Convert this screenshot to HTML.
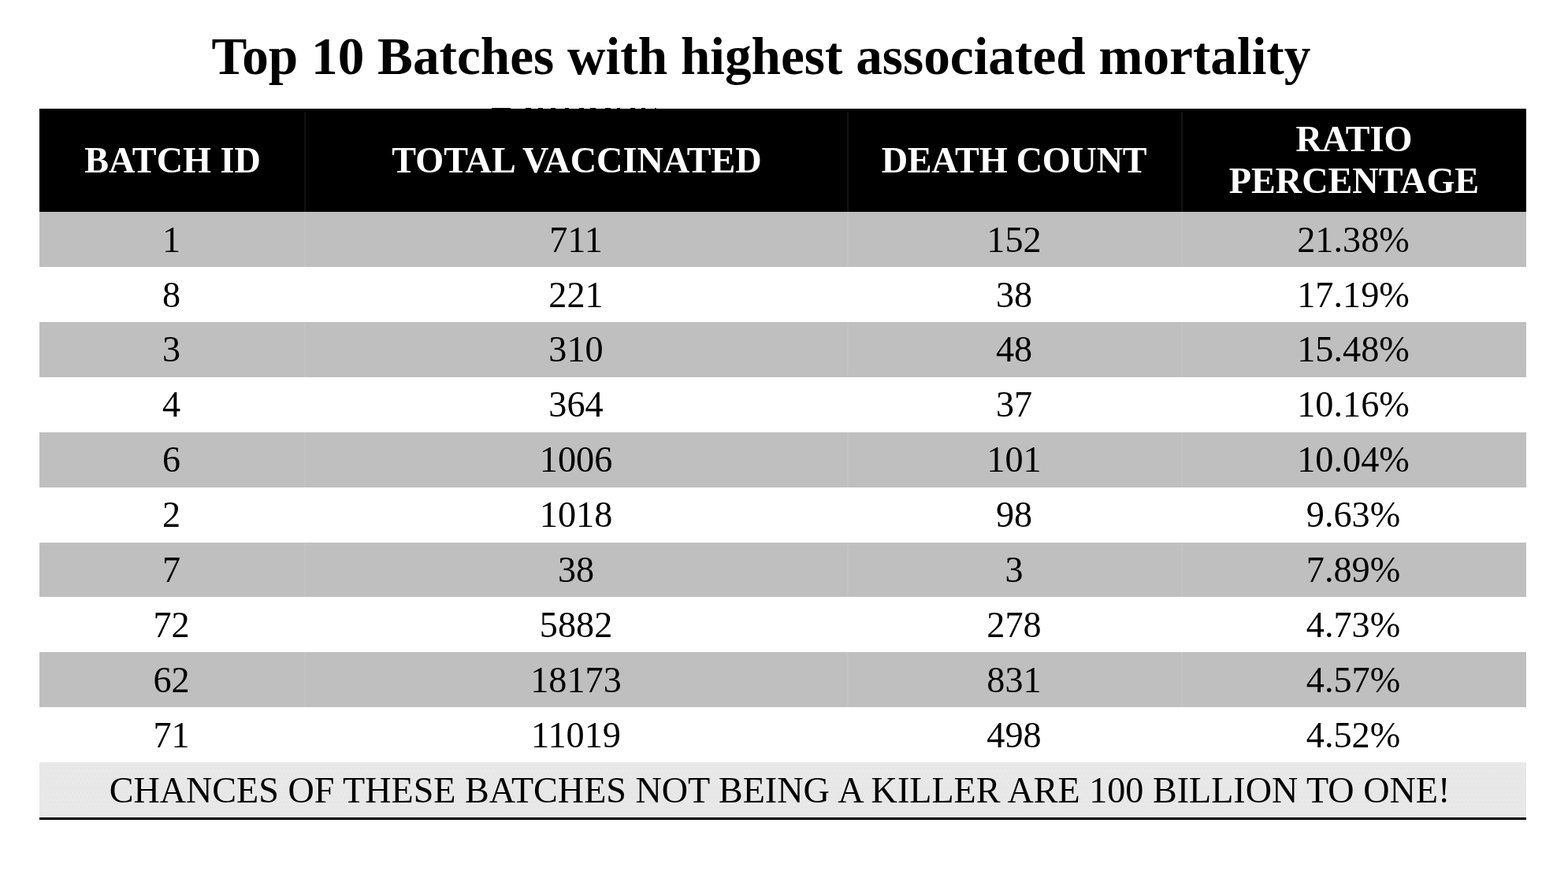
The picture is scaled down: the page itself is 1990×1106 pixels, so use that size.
<!DOCTYPE html>
<html lang="en">
<head>
<meta charset="utf-8">
<title>Top 10 Batches with highest associated mortality</title>
<style>
html,body{margin:0;padding:0;background:#fff;}
body{width:1990px;height:1106px;position:relative;overflow:hidden;font-family:"Liberation Serif","Times New Roman",Times,serif;color:#000;}
h1{position:absolute;margin:0;left:268.5px;top:34px;font-weight:bold;font-size:67.25px;line-height:76px;white-space:nowrap;}
table{position:absolute;left:50px;top:138px;width:1887px;border-collapse:collapse;border-spacing:0;table-layout:fixed;}
th,td{padding:0;margin:0;border:0;text-align:center;white-space:nowrap;overflow:visible;vertical-align:top;}
thead tr{height:131px;background:#000;}
th{color:#fff;font-weight:bold;font-size:46.2px;height:131px;line-height:131px;}
th.two{line-height:52.5px;}
th.two span{display:block;position:relative;top:13px;}
tbody td{font-size:46.25px;height:70px;}
tbody td span{display:block;position:relative;height:0;line-height:72px;}
tbody tr.g{background:#bfbfbf;}
tbody tr.s td{height:69px;}
tbody tr.m td span{line-height:70px;}
td.c1 span{left:-1.5px;} td.c2 span{left:-1px;} td.c3 span{left:-1px;} td.c4 span{left:-1px;}
th.c3 span{position:relative;left:-1px;letter-spacing:-0.22px;}
tfoot td{height:70px;background:#e8e8e8;font-size:46.12px;position:relative;}
tfoot td span{display:block;position:relative;left:-3.3px;top:1px;line-height:70px;height:0;}
tfoot td i{font-style:normal;position:relative;left:-1.5px;}
tfoot td svg{position:absolute;left:7px;top:8px;width:1875px;height:56px;}
.rule{position:absolute;left:50px;width:1887px;top:1038px;height:3px;background:#000;}
.vs{position:absolute;top:142px;height:826px;width:2px;background:rgba(255,255,255,0.07);}
.sliver{position:absolute;top:137px;height:1px;background:#111;}
</style>
</head>
<body>
<h1>Top 10 Batches with highest associated mortality</h1>
<div class="sliver" style="left:624px;width:24px"></div>
<div class="sliver" style="left:667px;width:7px"></div>
<div class="sliver" style="left:683px;width:6px"></div>
<div class="sliver" style="left:699px;width:6px"></div>
<div class="sliver" style="left:717px;width:5px"></div>
<div class="sliver" style="left:735px;width:6px"></div>
<div class="sliver" style="left:749px;width:7px"></div>
<div class="sliver" style="left:768px;width:7px"></div>
<div class="sliver" style="left:783px;width:4px"></div>
<div class="sliver" style="left:800px;width:6px"></div>
<div class="sliver" style="left:814px;width:5px"></div>
<div class="sliver" style="left:831px;width:2px"></div>
<table>
<colgroup><col style="width:338px"><col style="width:688px"><col style="width:424px"><col style="width:437px"></colgroup>
<thead><tr><th class="c1">BATCH ID</th><th class="c2">TOTAL VACCINATED</th><th class="c3"><span>DEATH COUNT</span></th><th class="c4 two"><span>RATIO<br>PERCENTAGE</span></th></tr></thead>
<tbody>
<tr class="g"><td class="c1"><span>1</span></td><td class="c2"><span>711</span></td><td class="c3"><span>152</span></td><td class="c4"><span>21.38%</span></td></tr>
<tr><td class="c1"><span>8</span></td><td class="c2"><span>221</span></td><td class="c3"><span>38</span></td><td class="c4"><span>17.19%</span></td></tr>
<tr class="g m"><td class="c1"><span>3</span></td><td class="c2"><span>310</span></td><td class="c3"><span>48</span></td><td class="c4"><span>15.48%</span></td></tr>
<tr class="m"><td class="c1"><span>4</span></td><td class="c2"><span>364</span></td><td class="c3"><span>37</span></td><td class="c4"><span>10.16%</span></td></tr>
<tr class="g m"><td class="c1"><span>6</span></td><td class="c2"><span>1006</span></td><td class="c3"><span>101</span></td><td class="c4"><span>10.04%</span></td></tr>
<tr class="m"><td class="c1"><span>2</span></td><td class="c2"><span>1018</span></td><td class="c3"><span>98</span></td><td class="c4"><span>9.63%</span></td></tr>
<tr class="g s m"><td class="c1"><span>7</span></td><td class="c2"><span>38</span></td><td class="c3"><span>3</span></td><td class="c4"><span>7.89%</span></td></tr>
<tr><td class="c1"><span>72</span></td><td class="c2"><span>5882</span></td><td class="c3"><span>278</span></td><td class="c4"><span>4.73%</span></td></tr>
<tr class="g"><td class="c1"><span>62</span></td><td class="c2"><span>18173</span></td><td class="c3"><span>831</span></td><td class="c4"><span>4.57%</span></td></tr>
<tr><td class="c1"><span>71</span></td><td class="c2"><span>11019</span></td><td class="c3"><span>498</span></td><td class="c4"><span>4.52%</span></td></tr>
</tbody>
<tfoot><tr><td colspan="4"><svg width="1875" height="56"><defs><pattern id="dots" width="10" height="12" patternUnits="userSpaceOnUse"><rect x="0" y="0" width="1" height="1" fill="#dedede"/><rect x="5" y="0" width="1" height="1" fill="#dedede"/><rect x="3" y="6" width="1" height="1" fill="#dedede"/><rect x="8" y="6" width="1" height="1" fill="#dedede"/></pattern></defs><rect width="1875" height="56" fill="url(#dots)"/></svg><span><i>CHANCES OF THESE BATCHES NOT BEING</i> A KILLER ARE 100 BILLION TO ONE!</span></td></tr></tfoot>
</table>
<div class="vs" style="left:386px"></div>
<div class="vs" style="left:1075px"></div>
<div class="vs" style="left:1499px"></div>
<div class="rule"></div>
</body>
</html>
